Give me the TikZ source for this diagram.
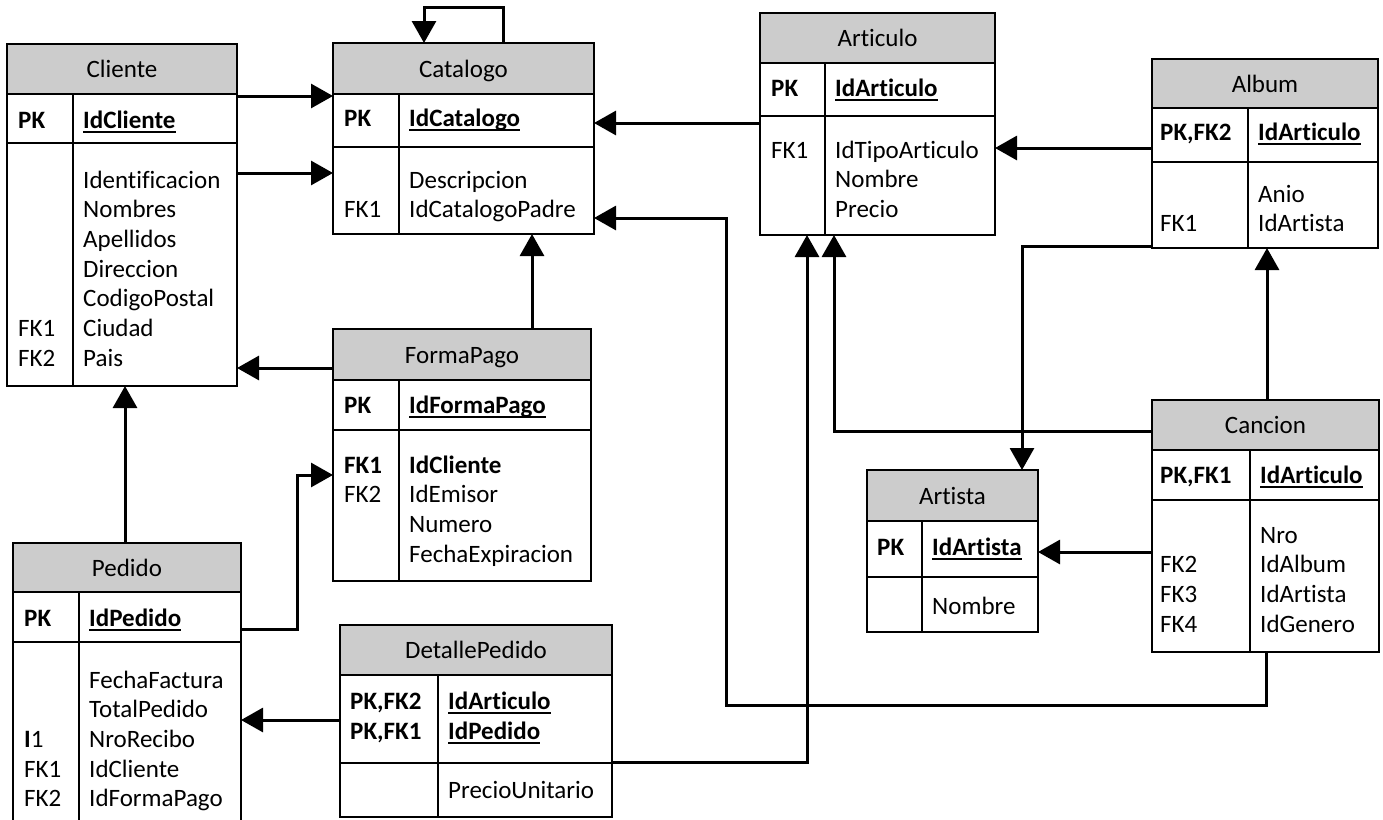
\documentclass[tikz,border=0pt]{standalone}
\usepackage{fontspec}
\setmainfont{Carlito}[Ligatures=NoCommon]
\usepackage{tikz}
\usetikzlibrary{arrows.meta}
\definecolor{cabecera}{RGB}{204,204,204}
\newcommand{\subr}[1]{\setbox0\hbox{#1}\rlap{\rule[-4.5pt]{\wd0}{1.6pt}}\box0}
\tikzset{
  tabla/.style={draw, line width=2pt, inner sep=0pt, outer sep=0pt, anchor=north west},
  titulo/.style={anchor=base, inner sep=0pt},
  campo/.style={anchor=base west, inner sep=0pt, align=left},
  fk/.style={line width=3pt, -{Triangle[length=22pt,width=24pt]}}
}
\begin{document}
\begin{tikzpicture}[x=1pt,y=-1pt,font=\fontsize{25}{29.7}\selectfont]
          \useasboundingbox (0,0) rectangle (1383,819);
          \clip (0,0) rectangle (1383,819);
          \foreach \nom/\xa/\ya/\xb/\yh/\yp/\yb/\xd in {cliente/7/44/237/94/143/386/73,
            catalogo/333/43/594/94/147/234/399, articulo/760/13/995/63/116/235/825,
            album/1152/59/1378/108/162/248/1248, cancion/1152/400/1379/450/500/652/1250,
            artista/867/470/1038/521/577/632/922, formapago/333/329/591/380/430/581/399,
            pedido/13/543/241/592/642/835/79, detalle/340/625/612/675/763/817/438}{
          \fill[cabecera] (\xa,\ya) rectangle (\xb,\yh);
          \node[tabla, minimum width={(\xb-\xa)*1pt}, minimum height={(\yb-\ya)*1pt}] (\nom) at (\xa,\ya) {};
          \draw[line width=2pt] (\xa,\yh) -- (\xb,\yh) (\xa,\yp) -- (\xb,\yp) (\xd,\yh) -- (\xd,\yb);
          }
          \node[titulo] (cliente-t) at (122,77) {Cliente};
          \node[campo] (cliente-pk) at (18,128) {\textbf{PK}};
          \node[campo] (cliente-id) at (83,128) {\subr{\textbf{IdCliente}}};
          \node[campo] (cliente-fk) at (18,366.2) {FK1\\FK2};
          \node[campo] (cliente-c) at (83,366.2) {Identificacion\\Nombres\\Apellidos\\Direccion\\CodigoPostal\\Ciudad\\Pais};
          \node[titulo] (catalogo-t) at (463.5,77) {Catalogo};
          \node[campo] (catalogo-pk) at (344,126) {\textbf{PK}};
          \node[campo] (catalogo-id) at (409,126) {\subr{\textbf{IdCatalogo}}};
          \node[campo] (catalogo-fk) at (344,217.7) {FK1};
          \node[campo] (catalogo-c) at (409,217.7) {Descripcion\\IdCatalogoPadre};
          \node[titulo] (articulo-t) at (877.5,46) {Articulo};
          \node[campo] (articulo-pk) at (771,96) {\textbf{PK}};
          \node[campo] (articulo-id) at (835,96) {\subr{\textbf{IdArticulo}}};
          \node[campo] (articulo-fk) at (771,158) {FK1};
          \node[campo] (articulo-c) at (835,217.4) {IdTipoArticulo\\Nombre\\Precio};
          \node[titulo] (album-t) at (1265,92) {Album};
          \node[campo] (album-pk) at (1160,140) {\textbf{PK,FK2}};
          \node[campo] (album-id) at (1258,140) {\subr{\textbf{IdArticulo}}};
          \node[campo] (album-fk) at (1160,231.7) {FK1};
          \node[campo] (album-c) at (1258,231.7) {Anio\\IdArtista};
          \node[titulo] (cancion-t) at (1265.5,433) {Cancion};
          \node[campo] (cancion-pk) at (1160,483) {\textbf{PK,FK1}};
          \node[campo] (cancion-id) at (1260,483) {\subr{\textbf{IdArticulo}}};
          \node[campo] (cancion-fk) at (1160,632.1) {FK2\\FK3\\FK4};
          \node[campo] (cancion-c) at (1260,632.1) {Nro\\IdAlbum\\IdArtista\\IdGenero};
          \node[titulo] (artista-t) at (952.5,504) {Artista};
          \node[campo] (artista-pk) at (877,555) {\textbf{PK}};
          \node[campo] (artista-id) at (932,555) {\subr{\textbf{IdArtista}}};
          \node[campo] (artista-c) at (932,614) {Nombre};
          \node[titulo] (formapago-t) at (462,363) {FormaPago};
          \node[campo] (formapago-pk) at (344,413) {\textbf{PK}};
          \node[campo] (formapago-id) at (409,413) {\subr{\textbf{IdFormaPago}}};
          \node[campo] (formapago-fk) at (344,502.7) {\textbf{FK1}\\FK2};
          \node[campo] (formapago-c) at (409,562.1) {\textbf{IdCliente}\\IdEmisor\\Numero\\FechaExpiracion};
          \node[titulo] (pedido-t) at (127,576) {Pedido};
          \node[campo] (pedido-pk) at (24,626) {\textbf{PK}};
          \node[campo] (pedido-id) at (89,626) {\subr{\textbf{IdPedido}}};
          \node[campo] (pedido-fk) at (24,806.8) {\textbf{I}1\\FK1\\FK2};
          \node[campo] (pedido-c) at (89,806.8) {FechaFactura\\TotalPedido\\NroRecibo\\IdCliente\\IdFormaPago};
          \node[titulo] (detalle-t) at (476,658) {DetallePedido};
          \node[campo] (detalle-pk) at (350,739) {\textbf{PK,FK2}\\\textbf{PK,FK1}};
          \node[campo] (detalle-id) at (448,739) {\subr{\textbf{IdArticulo}}\\\subr{\textbf{IdPedido}}};
          \node[campo] (detalle-c) at (448,798) {PrecioUnitario};
          \draw[fk] ([yshift=-52pt]cliente.north east) coordinate (r1) -- (r1 -| catalogo.west);
          \draw[fk] ([yshift=-129pt]cliente.north east) coordinate (r2) -- (r2 -| catalogo.west);
          \draw[fk] ([xshift=170pt]catalogo.north west) -- ++(0,-36) -| ([xshift=91pt]catalogo.north west);
          \draw[fk] ([yshift=-110pt]articulo.north west) coordinate (r4) -- (r4 -| catalogo.east);
          \draw[fk] ([yshift=-89pt]album.north west) coordinate (r5) -- (r5 -| articulo.east);
          \draw[fk] ([yshift=1.5pt]album.south west) -| ([xshift=155pt]artista.north west);
          \draw[fk] ([xshift=115pt]cancion.north west) coordinate (r7) -- (r7 |- album.south);
          \draw[fk] ([yshift=-31pt]cancion.north west) -| ([xshift=74pt]articulo.south west);
          \draw[fk] ([yshift=-152pt]cancion.north west) coordinate (r9) -- (r9 -| artista.east);
          \draw[fk] ([xshift=114pt]cancion.south west) -- ++(0,53) -- ++(-540,0) |- ([yshift=16pt]catalogo.south east);
          \draw[fk] ([xshift=199pt]formapago.north west) coordinate (r11) -- (r11 |- catalogo.south);
          \draw[fk] ([yshift=-39pt]formapago.north west) coordinate (r12) -- (r12 -| cliente.east);
          \draw[fk] ([xshift=112pt]pedido.north west) coordinate (r13) -- (r13 |- cliente.south);
          \draw[fk] ([yshift=-86pt]pedido.north east) -- ++(56,0) |- ([yshift=-146pt]formapago.north west);
          \draw[fk] ([yshift=-95pt]detalle.north west) coordinate (r15) -- (r15 -| pedido.east);
          \draw[fk] ([yshift=-137pt]detalle.north east) -| ([xshift=47pt]articulo.south west);
        \end{tikzpicture}
\end{document}
